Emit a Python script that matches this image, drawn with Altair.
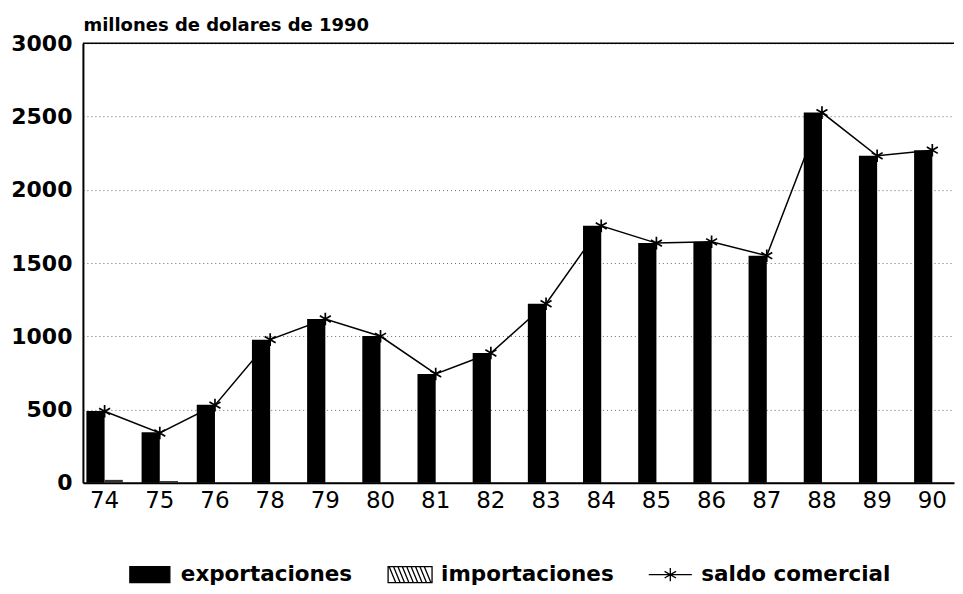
import altair as alt
import pandas as pd

# ---- data ----
years = ["74", "75", "76", "78", "79", "80", "81", "82", "83", "84", "85", "86", "87", "88", "89", "90"]
exportaciones = [490, 345, 532, 977, 1118, 1002, 743, 886, 1222, 1754, 1636, 1645, 1550, 2527, 2232, 2270]
importaciones = [20, 12, 4, 2, 2, 2, 2, 2, 2, 2, 2, 2, 2, 2, 2, 2]
saldo = [488, 340, 530, 977, 1118, 1000, 743, 886, 1222, 1754, 1636, 1645, 1550, 2527, 2232, 2270]
series = ["exportaciones", "importaciones", "saldo comercial"]
y_ticks = [0, 500, 1000, 1500, 2000, 2500, 3000]
y_title = "millones de dolares de 1990"

# ---- shapes (style) ----
ASTERISK = "M0,-1V1M-0.87,-0.5L0.87,0.5M-0.87,0.5L0.87,-0.5"
RECT = "M-0.91,-0.364H0.91V0.364H-0.91Z"
hatch = "M-1,-0.364H1V0.364H-1Z"
for i in range(9):
    x0 = -0.95 + i * 0.2
    hatch += "M%.2f,-0.364L%.2f,0.364" % (x0, x0 + 0.3)
LEGLINE = "M-0.98,0H0.98M0,-0.3V0.3M-0.26,-0.15L0.26,0.15M-0.26,0.15L0.26,-0.15"

df_bars = pd.DataFrame({
    "anio": years * 2,
    "serie": [series[0]] * len(years) + [series[1]] * len(years),
    "valor": exportaciones + importaciones,
})
df_line = pd.DataFrame({"anio": years, "valor": saldo})
df_top = pd.DataFrame({"valor": [y_ticks[-1]]})
df_leg = pd.DataFrame({"serie": series})

FONT = "DejaVu Sans"

xscale = alt.Scale(domain=years, paddingInner=0.34, paddingOuter=0.063)
x_axis = alt.Axis(title=None, labelAngle=0, labelFont=FONT, labelFontSize=23,
                  labelColor="black", labelPadding=7, ticks=False,
                  domainColor="black", domainWidth=2, grid=False)
yscale = alt.Scale(domain=[0, 3000], nice=False)
y_axis = alt.Axis(values=y_ticks, format="d", title=y_title, titleAngle=0,
                  titleX=0, titleY=-13, titleAlign="left", titleBaseline="alphabetic",
                  titleFont=FONT, titleFontSize=18, titleFontWeight="bold", titleColor="black",
                  labelFont=FONT, labelFontSize=22, labelFontWeight="bold", labelColor="black",
                  labelPadding=11, ticks=False, domainColor="black", domainWidth=2,
                  grid=True, gridColor="#666", gridDash=[1, 3], gridWidth=1)

X = alt.X("anio:N", scale=xscale, axis=x_axis)
Y = alt.Y("valor:Q", scale=yscale, axis=y_axis)

bars = alt.Chart(df_bars).mark_bar().encode(
    x=X,
    xOffset=alt.XOffset("serie:N", scale=alt.Scale(domain=series[:2])),
    y=Y,
    color=alt.Color("serie:N", scale=alt.Scale(domain=series[:2], range=["black", "#333333"]), legend=None),
)
line = alt.Chart(df_line).mark_line(color="black", strokeWidth=1.5).encode(
    x=alt.X("anio:N"), y=alt.Y("valor:Q"))
pts = alt.Chart(df_line).mark_point(shape=ASTERISK, size=160, color="black", filled=False,
                                     strokeWidth=1.7, opacity=1).encode(
    x=alt.X("anio:N"), y=alt.Y("valor:Q"))
top = alt.Chart(df_top).mark_rule(color="black", strokeWidth=1.5).encode(y=alt.Y("valor:Q"))

main = alt.layer(bars, line, pts, top).properties(width=872, height=440)

leg_x = alt.X("serie:N", scale=alt.Scale(type="point", domain=series, range=[67, 588], padding=0), axis=None)
leg_sym = alt.Chart(df_leg).mark_point(filled=True, stroke="black", strokeWidth=1.3, opacity=1, size=1936).encode(
    x=leg_x,
    shape=alt.Shape("serie:N", scale=alt.Scale(domain=series, range=[RECT, hatch, LEGLINE]), legend=None),
    fill=alt.Fill("serie:N", scale=alt.Scale(domain=series, range=["black", "white", "white"]), legend=None),
)
leg_txt = alt.Chart(df_leg).mark_text(align="left", baseline="middle", dx=31, font=FONT,
                                      fontSize=21.5, fontWeight="bold", color="black").encode(
    x=leg_x, text="serie:N")
legend = alt.layer(leg_sym, leg_txt).properties(width=800, height=16)

chart = alt.vconcat(main, legend, spacing=51).properties(
    padding={"left": 2, "top": 8, "right": 0, "bottom": 0}
).configure_view(stroke=None)

chart.save("out.html", embed_options={"renderer": "svg", "actions": False})
